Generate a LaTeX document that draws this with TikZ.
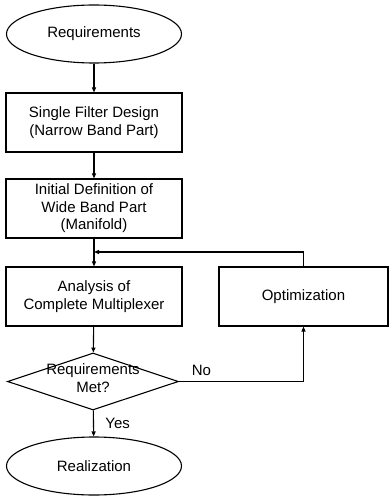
\documentclass[tikz,border=0pt]{standalone}
\usepackage{fontspec}
\setmainfont{Liberation Sans}
\usetikzlibrary{arrows.meta,positioning,shapes.geometric}

\begin{document}
\begin{tikzpicture}[x=1pt, y=-1pt, line width=1.1pt,
  every node/.style={font=\fontsize{15}{17.5}\selectfont},
  terminal/.style={draw, ellipse, minimum width=175pt, minimum height=58pt, inner sep=0pt},
  stepbox/.style={draw, rectangle, minimum width=176pt, minimum height=59pt, align=center, inner sep=0pt},
  decision/.style={draw, diamond, minimum width=171pt, minimum height=57pt, inner sep=0pt},
  flow/.style={-{Triangle[length=5pt, width=4pt]}}]
  \useasboundingbox (0,0) rectangle (389,497);
  \node[terminal] (req) at (94,34) {Requirements};
  \node[stepbox] (single) at (94,122.5) {Single Filter Design\\(Narrow Band Part)};
  \node[stepbox] (initial) at (94,208.5) {Initial Definition of\\Wide Band Part\\(Manifold)};
  \node[stepbox] (analysis) at (94,296.5) {Analysis of\\Complete Multiplexer};
  \node[stepbox, minimum width=169pt] (optim) at (303.5,296.5) {Optimization};
  \node[decision] (met) at (93,381.5) {};
  \node[align=center] (mettext) at (93,378) {Requirements\\Met?};
  \node[terminal] (real) at (94,466) {Realization};
  \coordinate (join) at (94,252);
  \draw[flow] (req) -- (single);
  \draw[flow] (single) -- (initial);
  \draw[flow] (initial) -- (analysis);
  \draw[flow] (analysis) -- (met);
  \draw[flow] (met) -- node[midway, right=8pt] {Yes} (real);
  \draw[flow] (met.east) -| node[pos=0.09, above=2pt] {No} (optim.south);
  \draw[flow] (optim.north) |- (join);
\end{tikzpicture}
\end{document}
